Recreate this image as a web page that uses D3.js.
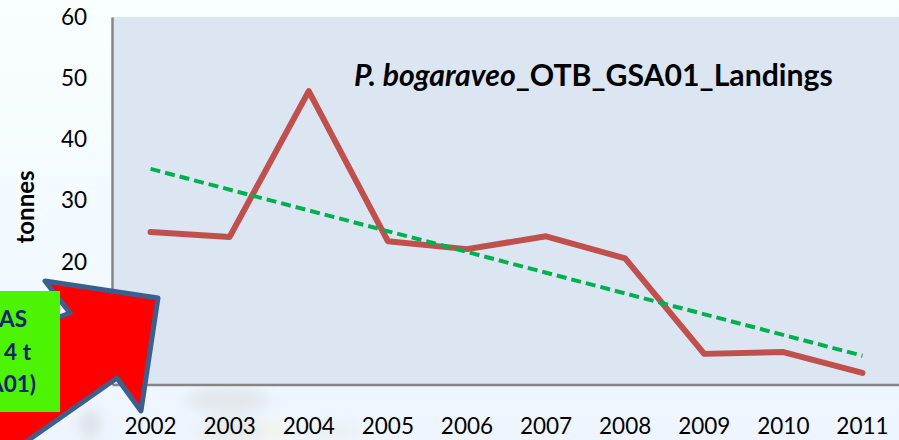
<!DOCTYPE html>
<html>
<head>
<meta charset="utf-8">
<script src="https://cdnjs.cloudflare.com/ajax/libs/d3/7.8.5/d3.min.js"></script>
<style>
  html, body { margin: 0; padding: 0; background: #f4faff; overflow: hidden; }
  svg { display: block; }
  text { font-family: Lato, "Open Sans", sans-serif; }
</style>
</head>
<body>
<div id="chart"></div>
<script>
var years = ["2002", "2003", "2004", "2005", "2006", "2007", "2008", "2009", "2010", "2011"];
var landings = [24.9, 24.1, 47.9, 23.4, 22.1, 24.2, 20.6, 5.0, 5.3, 1.9];
var trendYears = ["2002", "2011"];
var trendValues = [35.2, 4.7];
var yTicks = [0, 10, 20, 30, 40, 50, 60];
var calloutLines = ["AS", "4 t", "A01)"];

var width = 899, height = 440;
var margin = {top: 17, right: -4, bottom: 55.5, left: 112};
var innerW = width - margin.left - margin.right,
  innerH = height - margin.top - margin.bottom;

var svg = d3.select("#chart").append("svg")
  .attr("width", width)
  .attr("height", height);

var defs = svg.append("defs");
var bg = defs.append("linearGradient")
  .attr("id", "bg")
  .attr("x1", 0).attr("y1", 0).attr("x2", 0).attr("y2", 1);
bg.append("stop").attr("offset", "0%").attr("stop-color", "#f9ffff");
bg.append("stop").attr("offset", "100%").attr("stop-color", "#eef5ff");
defs.append("filter").attr("id", "soft")
  .append("feGaussianBlur").attr("stdDeviation", 7);

svg.append("rect")
  .attr("width", width)
  .attr("height", height)
  .attr("fill", "url(#bg)");

// faint photo showing through the slide background
var blobs = svg.append("g").attr("filter", "url(#soft)");
[[228, 400, 42, 12, "#e2e6ea"], [232, 430, 34, 12, "#e6eae8"], [90, 424, 10, 14, "#dcdfe4"],
  [275, 430, 14, 8, "#f4f5e4"], [330, 432, 30, 7, "#eaeeec"]].forEach(function (b) {
  blobs.append("ellipse")
    .attr("cx", b[0]).attr("cy", b[1])
    .attr("rx", b[2]).attr("ry", b[3])
    .attr("fill", b[4]);
});

var x = d3.scaleBand()
  .domain(years)
  .range([0, innerW]);
var y = d3.scaleLinear()
  .domain([0, 60])
  .range([innerH, 0]);

var g = svg.append("g")
  .attr("transform", "translate(" + margin.left + "," + margin.top + ")");

// plot area
g.append("rect")
  .attr("width", innerW)
  .attr("height", innerH)
  .attr("fill", "#dce6f2");

// axes
var yAxis = g.append("g")
  .call(d3.axisLeft(y).tickValues(yTicks).tickSize(0).tickPadding(25));
var xAxis = g.append("g")
  .attr("transform", "translate(0," + innerH + ")")
  .call(d3.axisBottom(x).tickSize(0).tickPadding(34));

[yAxis, xAxis].forEach(function (a) {
  a.selectAll("text")
    .style("font-size", "22.5px")
    .attr("fill", "#000");
  a.select(".domain")
    .attr("stroke", "#868686")
    .attr("stroke-width", 2.5);
});
xAxis.selectAll("text").attr("dx", -1);

var line = d3.line()
  .x(function (d) { return x(d.year) + x.bandwidth() / 2 - 1; })
  .y(function (d) { return y(d.value); });

g.append("path")
  .datum(years.map(function (yr, i) { return {year: yr, value: landings[i]}; }))
  .attr("d", line)
  .attr("fill", "none")
  .attr("stroke", "#c0504d")
  .attr("stroke-width", 6)
  .attr("stroke-linecap", "round")
  .attr("stroke-linejoin", "round");

g.append("path")
  .datum(trendYears.map(function (yr, i) { return {year: yr, value: trendValues[i]}; }))
  .attr("d", line)
  .attr("fill", "none")
  .attr("stroke", "#00b050")
  .attr("stroke-width", 4)
  .attr("stroke-dasharray", "10,5");

// chart title
var title = svg.append("text")
  .attr("x", 354)
  .attr("y", 86)
  .style("font-size", "30.2px")
  .style("font-weight", 700)
  .attr("fill", "#000");
title.append("tspan").style("font-style", "italic").text("P. bogaraveo");
title.append("tspan").text("_OTB_GSA01_Landings");

svg.append("text")
  .attr("transform", "translate(34,207) rotate(-90)")
  .attr("text-anchor", "middle")
  .style("font-size", "24px")
  .style("font-weight", 700)
  .attr("fill", "#000")
  .text("tonnes");

// callout arrow over the chart
var arrow = [[45, 281], [158, 298], [141, 411], [117, 378], [-20, 474], [-90, 372], [70, 313]];
svg.append("polygon")
  .attr("points", arrow.join(" "))
  .attr("fill", "#ff0000")
  .attr("stroke", "#3d5f8d")
  .attr("stroke-width", 5)
  .attr("stroke-linejoin", "round");

svg.append("rect")
  .attr("x", -10)
  .attr("y", 291)
  .attr("width", 70)
  .attr("height", 121)
  .attr("fill", "#4cf404");

svg.selectAll(".callout")
  .data(calloutLines)
  .enter().append("text")
  .attr("class", "callout")
  .attr("x", function (d, i) { return [27, 31, 36][i]; })
  .attr("y", function (d, i) { return 327 + i * 32.5; })
  .attr("text-anchor", "end")
  .style("font-size", "22.5px")
  .style("font-weight", 700)
  .attr("fill", "#12226e")
  .text(function (d) { return d; });
</script>
</body>
</html>
